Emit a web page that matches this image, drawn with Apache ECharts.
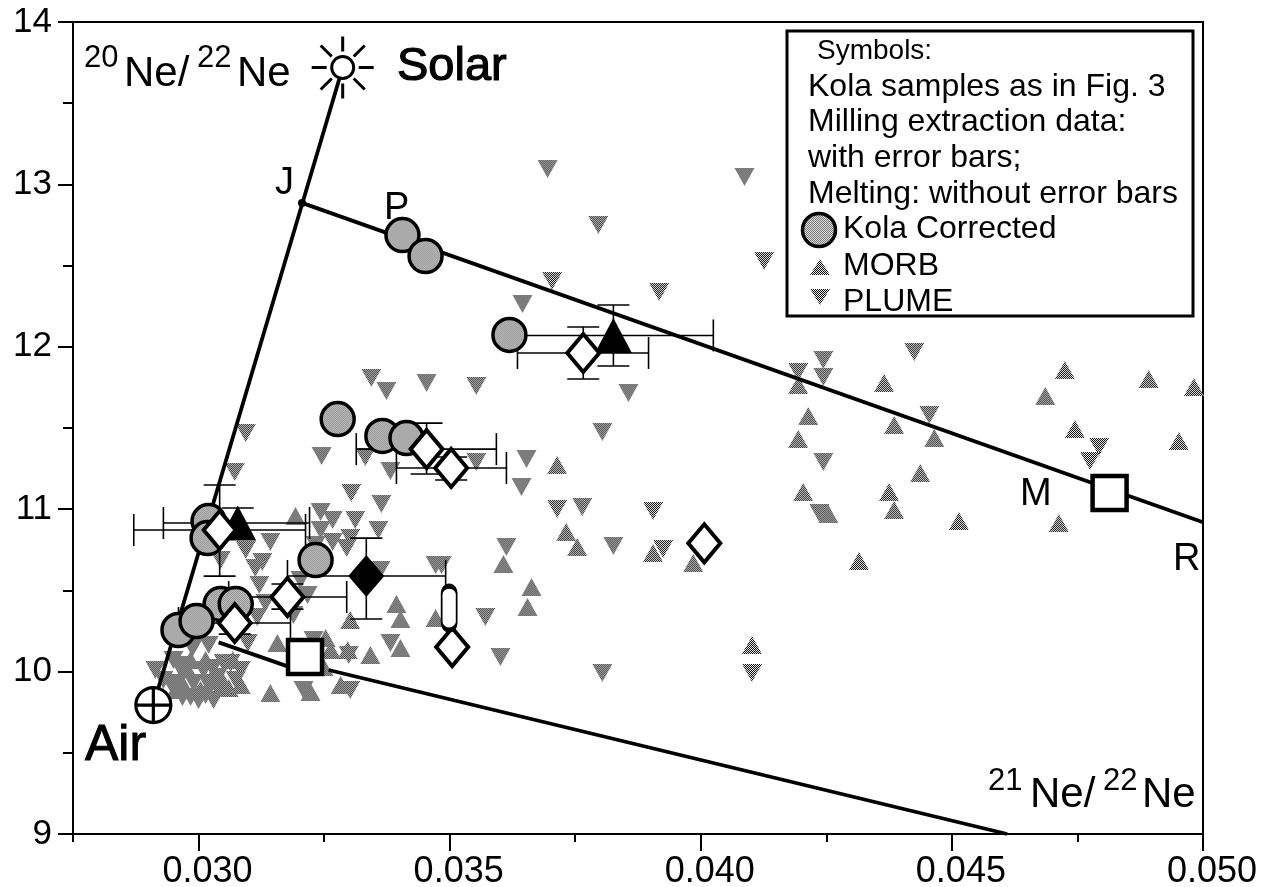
<!DOCTYPE html>
<html><head><meta charset="utf-8">
<style>html,body{margin:0;padding:0;background:#fff}#c{width:1261px;height:887px}</style>
<script src="https://cdn.jsdelivr.net/npm/echarts@6/dist/echarts.min.js"></script>
</head><body><div id="c"></div>
<script>
const plume = [[.03695,13.095],[.04087,13.046],[.03796,12.75],[.04126,12.528],[.03704,12.405],[.03917,12.337],[.03645,12.263],[.03344,11.808],[.03374,11.728],[.03454,11.777],[.03553,11.758],[.03856,11.715],[.03804,11.475],[.03245,11.327],[.03332,11.321],[.03382,11.235],[.03553,11.29],[.03653,11.309],[.03643,11.136],[.03304,11.1],[.03364,11.032],[.03714,11.001],[.03764,11.013],[.03905,10.989],[.03358,10.872],[.03613,10.767],[.03826,10.773],[.03925,10.755],[.03472,10.656],[.03484,10.656],[.03571,10.336],[.03299,10.102],[.03382,10.176],[.03601,10.09],[.03804,9.991],[.04102,9.991],[.03302,9.886],[.03243,10.983],[.03267,10.933],[.03312,10.933],[.03243,10.872],[.03302,10.822],[.03267,10.798],[.03295,10.761],[.03233,10.779],[.04425,11.968],[.04244,11.919],[.04194,11.845],[.04244,11.814],[.04455,11.58],[.04244,11.29],[.04793,11.383],[.04775,11.297],[.04236,10.976],[.03143,10.798],[.03094,11.469],[.03072,11.229],[.03094,10.749],[.03127,10.675],[.03113,10.638],[.03121,10.533],[.03044,10.687],[.03133,10.422],[.03203,10.564],[.03217,10.471],[.03189,10.348],[.03117,10.336],[.03362,10.625],[.02914,10.01],[.0295,10.071],[.0297,9.991],[.02944,9.93],[.02968,9.843],[.03,9.825],[.0303,9.825],[.0299,9.93],[.03018,9.93],[.0305,10.053],[.03084,10.01],[.0302,10.164],[.03098,10.176],[.0301,10.01],[.03038,9.967],[.03209,9.886],[.03229,10.194],[.03064,10.053],[.0293,9.948],[.02984,9.843],[.03014,9.856],[.0304,9.886],[.0296,10.04],[.02988,10.145],[.03028,10.022],[.03074,9.948]];
const morb = [[.04194,11.765],[.04365,11.777],[.04725,11.857],[.04892,11.802],[.04982,11.752],[.04686,11.697],[.04214,11.574],[.04385,11.518],[.04465,11.438],[.04194,11.432],[.04745,11.494],[.04952,11.42],[.04437,11.223],[.04204,11.106],[.04375,11.106],[.04385,10.995],[.04254,10.97],[.04514,10.927],[.04713,10.915],[.04315,10.681],[.03714,11.272],[.03732,10.859],[.03754,10.767],[.03607,10.662],[.03905,10.73],[.03985,10.668],[.03663,10.521],[.03655,10.398],[.03394,10.416],[.03402,10.324],[.03472,10.33],[.03302,10.318],[.03342,10.102],[.03402,10.145],[.03283,9.917],[.03223,9.874],[.04102,10.164],[.03193,10.958],[.03143,9.868],[.03297,10.133],[.03157,10.176],[.03253,10.207],[.03249,10.028],[.02984,10.071],[.0305,9.93],[.0306,9.899],[.02964,9.948],[.03004,9.886],[.03032,9.997],[.03263,10.133],[.02976,10.022],[.03014,10.071],[.02954,9.886],[.03084,9.917],[.03068,10.071]];
const kolaCorrected = [[.03406,12.688],[.03452,12.559],[.03619,12.073],[.03277,11.555],[.03366,11.451],[.03414,11.438],[.0302,10.927],[.03018,10.822],[.03233,10.687],[.03044,10.416],[.03074,10.416],[.0296,10.256],[.02996,10.311]];
const openDiamonds = [[.03766,11.962],[.03454,11.37],[.03503,11.254],[.03177,10.459],[.03072,10.299],[.03042,10.872],[.04007,10.79],[.03505,10.151]];
const filledDiamonds = [[.03334,10.589]];
const filledTriangles = [[.03826,12.07],[.03078,10.915]];
const openPill = [[.03499,10.391]];
const openSquares = [[.03212,10.09],[.04814,11.1]];
const airPoint = [[.0291,9.794]];
const solarPoint = [[.03287,13.72]];
const jPoint = [[.03206,12.886]];
const airSolarLine = [[.0291,9.794],[.03287,13.72]];
const jrLine = [[.03206,12.886],[.05,10.92]];
const lowerLine = [[.0304,10.18],[.03212,9.995],null,[.03259,10.01],[.0461,9]];
// x, y, xLow, xHigh, yLow, yHigh
const errorBars = [
 [.03826,12.07,.03627,.04025,11.882,12.257],
 [.03766,11.962,.03635,.03896,11.802,12.122],
 [.03454,11.37,.03314,.03593,11.217,11.53],
 [.03503,11.254,.03394,.03613,11.18,11.321],
 [.03334,10.589,.03177,.03492,10.324,10.822],
 [.03177,10.459,.0306,.03295,10.385,10.539],
 [.03072,10.299,.0296,.03183,10.231,10.367],
 [.03078,10.915,.0293,.03221,10.816,11.007],
 [.03042,10.872,.02871,.03213,10.588,11.149]
];
const xLabelTicks = [.03,.035,.04,.045,.05];
const xMinorTicks = [.0275,.0325,.0375,.0425,.0475];
const legendLines = ['Kola samples as in Fig. 3','Milling extraction data:','with error bars;','Melting: without error bars'];

function pattern(a,b,sx,sy){
  const c=document.createElement('canvas');c.width=c.height=2;
  const g=c.getContext('2d');g.fillStyle=b;g.fillRect(0,0,2,2);g.fillStyle=a;g.fillRect(0,0,1,1);g.fillRect(1,1,1,1);
  return {image:c,repeat:'repeat',scaleX:sx,scaleY:sy};
}
const D='#0a0a0a',W='#eeeeee',CD='#777777',CW='#dddddd';
const F='"Liberation Sans",Arial,sans-serif';
function T(text,x,base,size,weight,extra){
  return {type:'text',z:50,style:Object.assign({text:text,x:x,y:base-size*0.31,fill:'#000',font:(weight||'normal')+' '+size+'px '+F,align:'left',verticalAlign:'middle'},extra||{})};
}
const chart=echarts.init(document.getElementById('c'),null,{renderer:'canvas'});
const pts=(name,data,symbol,size,style,z,rot)=>({type:'scatter',name,data,symbol,symbolSize:size,symbolRotate:rot||0,itemStyle:Object.assign({opacity:1},style),z,silent:true});
const line=(name,data,w)=>({type:'line',name,data,showSymbol:false,symbol:'none',connectNulls:false,lineStyle:{color:'#000',width:w||3.8},z:5,silent:true});
const sunPath='path://M20 31A11 11 0 1 1 42 31A11 11 0 1 1 20 31ZM31 0V15M31 47V62M0 31H15M47 31H62M9 9L20 20M42 42L53 53M53 9L42 20M20 42L9 53';
const airPath='path://M0 17A17 17 0 1 1 34 17A17 17 0 1 1 0 17ZM17 0V34M0 17H34';
const pillPath='path://M0 8A8 8 0 0 1 16 8V36A8 8 0 0 1 0 36Z';
chart.setOption({
 animation:false,backgroundColor:'#fff',
 grid:{left:73,right:58,top:22,bottom:53,outerBoundsMode:'none',show:true,borderColor:'#000',borderWidth:2,backgroundColor:'transparent'},
 xAxis:[
  {type:'value',min:.0275,max:.05,interval:.0025,splitLine:{show:false},
   axisLine:{onZero:false,lineStyle:{color:'#000',width:2}},
   axisTick:{length:17,customValues:xLabelTicks,lineStyle:{color:'#000',width:2}},
   axisLabel:{customValues:xLabelTicks,formatter:v=>v.toFixed(3),color:'#000',fontFamily:F,fontSize:36,margin:20,padding:[0,0,0,18],showMaxLabel:true}},
  {type:'value',min:.0275,max:.05,interval:.0025,position:'bottom',splitLine:{show:false},
   axisLine:{onZero:false,lineStyle:{color:'#000',width:2}},
   axisTick:{length:8,customValues:xMinorTicks,lineStyle:{color:'#000',width:2}},
   axisLabel:{show:false}}
 ],
 yAxis:{type:'value',min:9,max:14,interval:1,splitLine:{show:false},
   axisLine:{onZero:false,lineStyle:{color:'#000',width:2}},
   axisTick:{length:15,lineStyle:{color:'#000',width:2}},
   minorTick:{show:true,splitNumber:2,length:10,lineStyle:{color:'#000',width:2}},
   minorSplitLine:{show:false},
   axisLabel:{color:'#000',fontFamily:F,fontSize:35,margin:21,showMaxLabel:true,showMinLabel:true}},
 series:[
  pts('PLUME',plume,'triangle',[20,18],{color:pattern(D,W,1/10,1/9)},2,180),
  pts('MORB',morb,'triangle',[20,18],{color:pattern(D,W,1/10,1/9)},2),
  line('Air-Solar',airSolarLine),line('J-R',jrLine),line('Lower',lowerLine),
  {type:'custom',name:'errors',z:6,silent:true,data:errorBars,encode:{x:0,y:1},clip:false,
   renderItem(p,api){
    const px=api.coord([api.value(2),api.value(1)]),qx=api.coord([api.value(3),api.value(1)]);
    const py=api.coord([api.value(0),api.value(4)]),qy=api.coord([api.value(0),api.value(5)]);
    const C=16,s={stroke:'#000',lineWidth:1.6,fill:null};
    const L=(a,b,c,d)=>({type:'line',shape:{x1:a,y1:b,x2:c,y2:d},style:s});
    return {type:'group',children:[
     L(px[0],px[1],qx[0],qx[1]),L(px[0],px[1]-C,px[0],px[1]+C),L(qx[0],qx[1]-C,qx[0],qx[1]+C),
     L(py[0],py[1],qy[0],qy[1]),L(py[0]-C,py[1],py[0]+C,py[1]),L(qy[0]-C,qy[1],qy[0]+C,qy[1])]};
   }},
  pts('Kola Corrected',kolaCorrected,'circle',33,{color:pattern(CD,CW,1/16.5,1/16.5),borderColor:'#000',borderWidth:3.5},8),
  pts('Filled triangles',filledTriangles,'triangle',[37,35],{color:'#000'},9),
  pts('Filled diamonds',filledDiamonds,'diamond',[36,42],{color:'#000'},9),
  pts('Open diamonds',openDiamonds,'diamond',[32,38],{color:'#fff',borderColor:'#000',borderWidth:4},10),
  pts('Open pill',openPill,pillPath,[15,44],{color:'#fff',borderColor:'#000',borderWidth:3},10),
  pts('Open squares',openSquares,'rect',34,{color:'#fff',borderColor:'#000',borderWidth:4.5},10),
  pts('Air',airPoint,airPath,35,{color:'#fff',borderColor:'#000',borderWidth:3.2},10),
  pts('Solar',solarPoint,sunPath,62,{color:'#fff',borderColor:'#000',borderWidth:3},10),
  pts('J',jPoint,'circle',8,{color:'#000'},10)
 ],
 graphic:[
  T('20',84,68,31),T('Ne/',124,87,42),T('22',197,68,31),T('Ne',237,87,42),
  T('Solar',397,82,47,'normal',{stroke:'#000',lineWidth:1.2}),T('Air',85,762,50,'normal',{stroke:'#000',lineWidth:1}),
  T('21',988,791,31),T('Ne/',1030,808,42),T('22',1103,791,31),T('Ne',1142,808,42),
  T('J',275,195,38),T('P',384,220,38),T('M',1020,506,38),T('R',1173,571,38),
  {type:'rect',z:40,shape:{x:787,y:31,width:406,height:285},style:{fill:'#fff',stroke:'#000',lineWidth:3}},
  T('Symbols:',817,60,28),
  T(legendLines[0],808,97,32),T(legendLines[1],808,132,32),T(legendLines[2],808,168,32),T(legendLines[3],808,204,32),
  T('Kola Corrected',843,239,32),T('MORB',843,276,32),T('PLUME',843,312,32),
  {type:'circle',z:45,shape:{cx:819,cy:230,r:16.5},style:{fill:pattern(CD,CW,1,1),stroke:'#000',lineWidth:3.5}},
  {type:'polygon',z:45,shape:{points:[[820,259],[830,275],[810,275]]},style:{fill:pattern(D,W,1,1)}},
  {type:'polygon',z:45,shape:{points:[[810,289],[830,289],[820,305]]},style:{fill:pattern(D,W,1,1)}}
 ]
});
</script></body></html>
